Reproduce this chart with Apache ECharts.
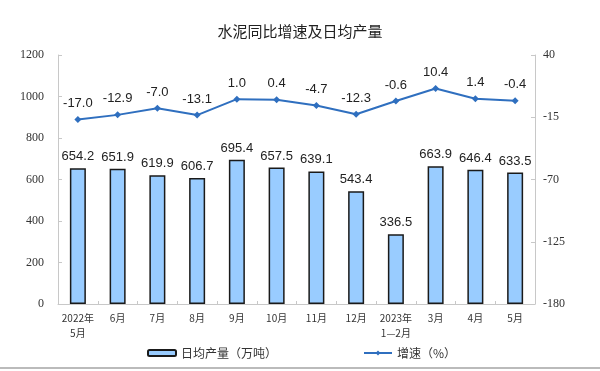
<!DOCTYPE html>
<html><head><meta charset="utf-8">
<script src="https://cdn.jsdelivr.net/npm/echarts@6/dist/echarts.min.js"></script>
<style>html,body{margin:0;padding:0;background:#fff}#c{width:600px;height:371px}</style>
</head><body><div id="c"></div>
<script>
var categories = ['2022年\n5月','6月','7月','8月','9月','10月','11月','12月','2023年\n1—2月','3月','4月','5月'];
var output = [654.2,651.9,619.9,606.7,695.4,657.5,639.1,543.4,336.5,663.9,646.4,633.5];
var growth = [-17.0,-12.9,-7.0,-13.1,1.0,0.4,-4.7,-12.3,-0.6,10.4,1.4,-0.4];
var leftTicks = [0,200,400,600,800,1000,1200];
var rightTicks = [-180,-125,-70,-15,40];

var chart = echarts.init(document.getElementById('c'), null, {renderer:'canvas'});
var serif = '"Liberation Serif","Times New Roman",serif';
var sans = '"Liberation Sans",Arial,"Noto Sans CJK SC",sans-serif';
chart.setOption({
  animation:false,
  backgroundColor:'#fff',
  title:{text:'水泥同比增速及日均产量',left:'center',top:19,textStyle:{fontFamily:'"Noto Sans CJK SC",sans-serif',fontSize:15,fontWeight:'normal',color:'#222'}},
  grid:{left:58,right:65,top:55,bottom:67},
  legend:[
    {data:['日均产量（万吨）'],left:142,top:342,itemWidth:28,itemHeight:6,itemGap:4,textStyle:{fontFamily:'"Noto Sans CJK SC",sans-serif',fontSize:12,color:'#333'}},
    {data:['增速（%）'],left:358,top:342,itemWidth:28,itemHeight:6,textStyle:{fontFamily:'"Noto Sans CJK SC",sans-serif',fontSize:12,color:'#333'}}
  ],
  xAxis:{type:'category',data:categories,
    axisLine:{lineStyle:{color:'#c8c8c8'}},
    axisTick:{show:true,inside:true,length:3,lineStyle:{color:'#c8c8c8'}},
    axisLabel:{interval:0,fontFamily:'"Noto Sans CJK SC",sans-serif',fontSize:10,color:'#333',lineHeight:15,margin:7}},
  yAxis:[
    {type:'value',min:leftTicks[0],max:leftTicks[leftTicks.length-1],interval:200,
      axisLine:{show:true,lineStyle:{color:'#c8c8c8'}},axisTick:{show:true,inside:true,length:4,lineStyle:{color:'#c8c8c8'}},
      splitLine:{show:false},axisLabel:{fontFamily:serif,fontSize:12,color:'#333',margin:14,formatter:function(v){return String(v);}}},
    {type:'value',min:rightTicks[0],max:rightTicks[rightTicks.length-1],interval:55,
      axisLine:{show:true,lineStyle:{color:'#c8c8c8'}},axisTick:{show:true,inside:true,length:4,lineStyle:{color:'#c8c8c8'}},
      splitLine:{show:false},axisLabel:{fontFamily:serif,fontSize:12,color:'#333',margin:8,formatter:function(v){return String(v);}}}
  ],
  series:[
    {name:'日均产量（万吨）',type:'bar',data:output,barWidth:16,yAxisIndex:0,
      itemStyle:{color:'#99CCFF',borderColor:'#1a1a1a',borderWidth:1.5},
      label:{show:true,position:'top',distance:5,fontFamily:sans,fontSize:13,color:'#222',formatter:function(p){return p.value.toFixed(1);}}},
    {name:'增速（%）',type:'line',data:growth,yAxisIndex:1,symbol:'diamond',symbolSize:7,
      lineStyle:{color:'#2F6FBF',width:2},itemStyle:{color:'#2F6FBF'},
      label:{show:true,position:'top',distance:6,fontFamily:sans,fontSize:13,color:'#222',formatter:function(p){return p.value.toFixed(1);}}}
  ],
  graphic:[{type:'line',shape:{x1:0,y1:368,x2:600,y2:368},style:{stroke:'#bbb',lineWidth:2}}]
});
</script></body></html>
